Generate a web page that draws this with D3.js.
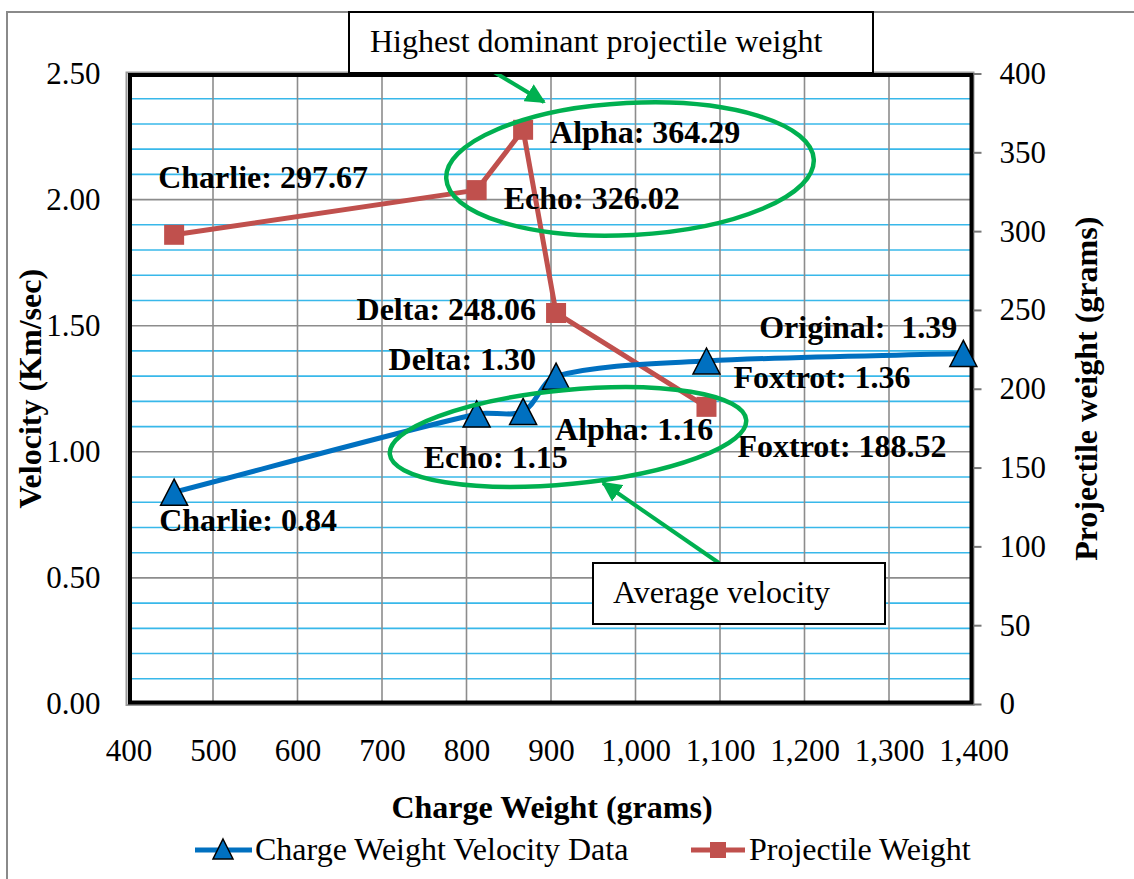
<!DOCTYPE html>
<html>
<head>
<meta charset="utf-8">
<script src="https://cdn.jsdelivr.net/npm/d3@7"></script>
<style>
  html, body { margin: 0; padding: 0; background: #fff; }
  svg { display: block; font-family: "Liberation Serif", "Times New Roman", serif; }
  text { white-space: pre; }
</style>
</head>
<body>
<svg id="chart" width="1134" height="879"></svg>
<script>
// ---------- DATA ----------
const velocityNames = ["Charlie", "Echo", "Alpha", "Delta", "Foxtrot", "Original"];
const velocityChargeWeight = [454, 812, 867, 906, 1084, 1388];
const velocityValues = [0.84, 1.15, 1.16, 1.30, 1.36, 1.39];

const projectileNames = ["Charlie", "Echo", "Alpha", "Delta", "Foxtrot"];
const projectileChargeWeight = [454, 812, 867, 906, 1084];
const projectileValues = [297.67, 326.02, 364.29, 248.06, 188.52];

const xTickValues = [400, 500, 600, 700, 800, 900, 1000, 1100, 1200, 1300, 1400];
const leftTickValues = [0, 0.5, 1.0, 1.5, 2.0, 2.5];
const rightTickValues = [0, 50, 100, 150, 200, 250, 300, 350, 400];

const seriesNames = ["Charge Weight Velocity Data", "Projectile Weight"];
const xTitle = "Charge Weight (grams)";
const leftTitle = "Velocity (Km/sec)";
const rightTitle = "Projectile weight (grams)";
const noteTop = "Highest dominant projectile weight";
const noteBottom = "Average velocity";

// ---------- LAYOUT / STYLE ----------
const L = 128.5, R = 973.5, T = 73.5, B = 704;
const blue = "#0070C0", red = "#C0504D", green = "#00B050";
const gridGray = "#8C8C8C", gridBlue = "#38B8EA";
const FS = 31, FT = 32;

const svg = d3.select("#chart");
svg.append("rect").attr("width", 1134).attr("height", 879).attr("fill", "#fff");

// outer chart border
svg.append("path").attr("d", "M7,879 V12 H1134").attr("fill", "none")
  .attr("stroke", "#8a8a8a").attr("stroke-width", 2);

const x = d3.scaleLinear().domain([400, 1400]).range([L, R]);
const yL = d3.scaleLinear().domain([0, 2.5]).range([B, T]);
const yR = d3.scaleLinear().domain([0, 400]).range([B, T]);

// minor horizontal gridlines (every 0.1)
const minor = d3.range(1, 25).map(i => i / 10).filter(v => Math.abs(v * 2 - Math.round(v * 2)) > 1e-6);
svg.append("g").selectAll("line").data(minor).join("line")
  .attr("x1", L).attr("x2", R)
  .attr("y1", d => yL(d)).attr("y2", d => yL(d))
  .attr("stroke", gridBlue).attr("stroke-width", 1.6);

// major horizontal gridlines
svg.append("g").selectAll("line").data(leftTickValues.slice(1, -1)).join("line")
  .attr("x1", L).attr("x2", R)
  .attr("y1", d => yL(d)).attr("y2", d => yL(d))
  .attr("stroke", gridGray).attr("stroke-width", 1.6);

// vertical gridlines
svg.append("g").selectAll("line").data(xTickValues.slice(1, -1)).join("line")
  .attr("x1", d => x(d)).attr("x2", d => x(d))
  .attr("y1", T).attr("y2", B)
  .attr("stroke", gridGray).attr("stroke-width", 1.6);

// plot border (thick black with shadow)
svg.append("rect").attr("x", L - 2).attr("y", T - 1).attr("width", R - L + 2).attr("height", B - T + 2)
  .attr("fill", "none").attr("stroke", "#9a9a9a").attr("stroke-width", 2);
svg.append("rect").attr("x", L + 1.5).attr("y", T + 1.5).attr("width", R - L - 3.5).attr("height", B - T - 3)
  .attr("fill", "none").attr("stroke", "#000").attr("stroke-width", 4);

// Left axis labels
const leftAxis = d3.axisLeft(yL).tickValues(leftTickValues).tickSize(0).tickPadding(28)
  .tickFormat(d3.format(".2f"));
const gL = svg.append("g").attr("transform", `translate(${L},0)`).call(leftAxis);
gL.select(".domain").remove();
gL.selectAll("text").attr("font-size", FS).attr("font-family", "Liberation Serif").attr("fill", "#000");

// Right axis
const rightAxis = d3.axisRight(yR).tickValues(rightTickValues).tickSize(8).tickPadding(18);
const gR = svg.append("g").attr("transform", `translate(${R},0)`).call(rightAxis);
gR.select(".domain").remove();
gR.selectAll("line").attr("stroke", "#777").attr("stroke-width", 2);
gR.selectAll("text").attr("font-size", FS).attr("font-family", "Liberation Serif").attr("fill", "#000");

// Bottom axis
const bottomAxis = d3.axisBottom(x).tickValues(xTickValues).tickSize(0).tickPadding(35)
  .tickFormat(d3.format(","));
const gB = svg.append("g").attr("transform", `translate(0,${B})`).call(bottomAxis);
gB.select(".domain").remove();
gB.selectAll("text").attr("font-size", FS).attr("font-family", "Liberation Serif").attr("fill", "#000");

// Titles
svg.append("text").attr("x", 552).attr("y", 818).attr("text-anchor", "middle")
  .attr("font-size", FT).attr("font-weight", "bold").text(xTitle);
svg.append("text").attr("transform", `translate(41,${(T + B) / 2}) rotate(-90)`).attr("text-anchor", "middle")
  .attr("font-size", FT).attr("font-weight", "bold").text(leftTitle);
svg.append("text").attr("transform", `translate(1097,${(T + B) / 2}) rotate(-90)`).attr("text-anchor", "middle")
  .attr("font-size", FT).attr("font-weight", "bold").text(rightTitle);

// ---------- SERIES ----------
const velData = velocityNames.map((n, i) => ({ name: n, cw: velocityChargeWeight[i], v: velocityValues[i] }));
const projData = projectileNames.map((n, i) => ({ name: n, cw: projectileChargeWeight[i], v: projectileValues[i] }));

// projectile line
svg.append("path").datum(projData)
  .attr("d", d3.line().x(d => x(d.cw)).y(d => yR(d.v)))
  .attr("fill", "none").attr("stroke", red).attr("stroke-width", 5).attr("stroke-linejoin", "round");

// velocity line (spreadsheet-style smoothing: tangent along neighbour chord, handle length ~0.3 of segment)
function smoothPath(pts) {
  const p = d3.path();
  const n = pts.length;
  const u = pts.map((q, i) => {
    const a = pts[Math.max(0, i - 1)], b = pts[Math.min(n - 1, i + 1)];
    const dx = b[0] - a[0], dy = b[1] - a[1], l = Math.hypot(dx, dy);
    return [dx / l, dy / l];
  });
  p.moveTo(pts[0][0], pts[0][1]);
  for (let i = 0; i < n - 1; i++) {
    const a = pts[i], b = pts[i + 1];
    const k = Math.hypot(b[0] - a[0], b[1] - a[1]) * 0.3;
    p.bezierCurveTo(a[0] + u[i][0] * k, a[1] + u[i][1] * k,
                    b[0] - u[i + 1][0] * k, b[1] - u[i + 1][1] * k, b[0], b[1]);
  }
  return p.toString();
}
svg.append("path")
  .attr("d", smoothPath(velData.map(d => [x(d.cw), yL(d.v)])))
  .attr("fill", "none").attr("stroke", blue).attr("stroke-width", 5);

// projectile markers
const sq = 20;
svg.append("g").selectAll("rect").data(projData).join("rect")
  .attr("x", d => x(d.cw) - sq / 2).attr("y", d => yR(d.v) - sq / 2)
  .attr("width", sq).attr("height", sq).attr("fill", red);

// velocity markers (triangles)
const tri = (w, h) => `M0,${-h / 2} L${w / 2},${h / 2} L${-w / 2},${h / 2} Z`;
svg.append("g").selectAll("path").data(velData).join("path")
  .attr("transform", d => `translate(${x(d.cw)},${yL(d.v)})`)
  .attr("d", tri(27, 26)).attr("fill", blue).attr("stroke", "#000").attr("stroke-width", 1.5)
  .attr("stroke-linejoin", "miter");

// ---------- DATA LABELS ----------
const velLabelPos = {
  Charlie: { dx: -15, dy: 39, a: "start" },
  Echo: { dx: -53, dy: 54, a: "start" },
  Alpha: { dx: 32, dy: 29, a: "start" },
  Delta: { dx: -20, dy: -6, a: "end" },
  Foxtrot: { dx: 27, dy: 27, a: "start" },
  Original: { dx: -6, dy: -15, a: "end" }
};
const projLabelPos = {
  Charlie: { dx: -16, dy: -47, a: "start" },
  Echo: { dx: 27, dy: 19, a: "start" },
  Alpha: { dx: 27, dy: 13, a: "start" },
  Delta: { dx: -20, dy: 7, a: "end" },
  Foxtrot: { dx: 31, dy: 50, a: "start" }
};

svg.append("g").selectAll("text").data(velData).join("text")
  .attr("x", d => x(d.cw) + velLabelPos[d.name].dx)
  .attr("y", d => yL(d.v) + velLabelPos[d.name].dy)
  .attr("text-anchor", d => velLabelPos[d.name].a)
  .attr("font-size", FT).attr("font-weight", "bold")
  .text(d => d.name === "Original" ? `${d.name}:  ${d.v.toFixed(2)}` : `${d.name}: ${d.v.toFixed(2)}`);

svg.append("g").selectAll("text").data(projData).join("text")
  .attr("x", d => x(d.cw) + projLabelPos[d.name].dx)
  .attr("y", d => yR(d.v) + projLabelPos[d.name].dy)
  .attr("text-anchor", d => projLabelPos[d.name].a)
  .attr("font-size", FT).attr("font-weight", "bold")
  .text(d => `${d.name}: ${d.v.toFixed(2)}`);

// ---------- ANNOTATIONS ----------
const defs = svg.append("defs");
defs.append("marker").attr("id", "arrow").attr("viewBox", "0 0 10 10")
  .attr("refX", 9).attr("refY", 5).attr("markerWidth", 5).attr("markerHeight", 5)
  .attr("orient", "auto").attr("markerUnits", "strokeWidth")
  .append("path").attr("d", "M0,0 L10,5 L0,10 Z").attr("fill", green);

// ellipses
svg.append("ellipse").attr("cx", 0).attr("cy", 0).attr("rx", 184).attr("ry", 66)
  .attr("transform", "translate(630,169) rotate(-3)")
  .attr("fill", "none").attr("stroke", green).attr("stroke-width", 4.5);
svg.append("ellipse").attr("cx", 0).attr("cy", 0).attr("rx", 179).attr("ry", 47)
  .attr("transform", "translate(568,437) rotate(-5.5)")
  .attr("fill", "none").attr("stroke", green).attr("stroke-width", 4.5);

// arrows
svg.append("line").attr("x1", 494).attr("y1", 72).attr("x2", 544).attr("y2", 102)
  .attr("stroke", green).attr("stroke-width", 4).attr("marker-end", "url(#arrow)");
svg.append("line").attr("x1", 719).attr("y1", 563).attr("x2", 603).attr("y2", 483)
  .attr("stroke", green).attr("stroke-width", 4).attr("marker-end", "url(#arrow)");

// text boxes
svg.append("rect").attr("x", 349).attr("y", 12).attr("width", 524).attr("height", 61)
  .attr("fill", "#fff").attr("stroke", "#000").attr("stroke-width", 2);
svg.append("text").attr("x", 370).attr("y", 52).attr("font-size", FT).text(noteTop);

svg.append("rect").attr("x", 593).attr("y", 563).attr("width", 292).attr("height", 61)
  .attr("fill", "#fff").attr("stroke", "#000").attr("stroke-width", 2);
svg.append("text").attr("x", 613).attr("y", 603).attr("font-size", FT).text(noteBottom);

// ---------- LEGEND ----------
const lg = svg.append("g");
lg.append("line").attr("x1", 195).attr("x2", 252).attr("y1", 850).attr("y2", 850)
  .attr("stroke", blue).attr("stroke-width", 5);
lg.append("path").attr("transform", "translate(223,849)").attr("d", tri(20, 20))
  .attr("fill", blue).attr("stroke", "#000").attr("stroke-width", 1.5);
lg.append("text").attr("x", 255).attr("y", 860).attr("font-size", FT).text(seriesNames[0]);

lg.append("line").attr("x1", 691).attr("x2", 745).attr("y1", 850).attr("y2", 850)
  .attr("stroke", red).attr("stroke-width", 5);
lg.append("rect").attr("x", 710).attr("y", 842).attr("width", 16).attr("height", 16).attr("fill", red);
lg.append("text").attr("x", 749).attr("y", 860).attr("font-size", FT).text(seriesNames[1]);
</script>
</body>
</html>
